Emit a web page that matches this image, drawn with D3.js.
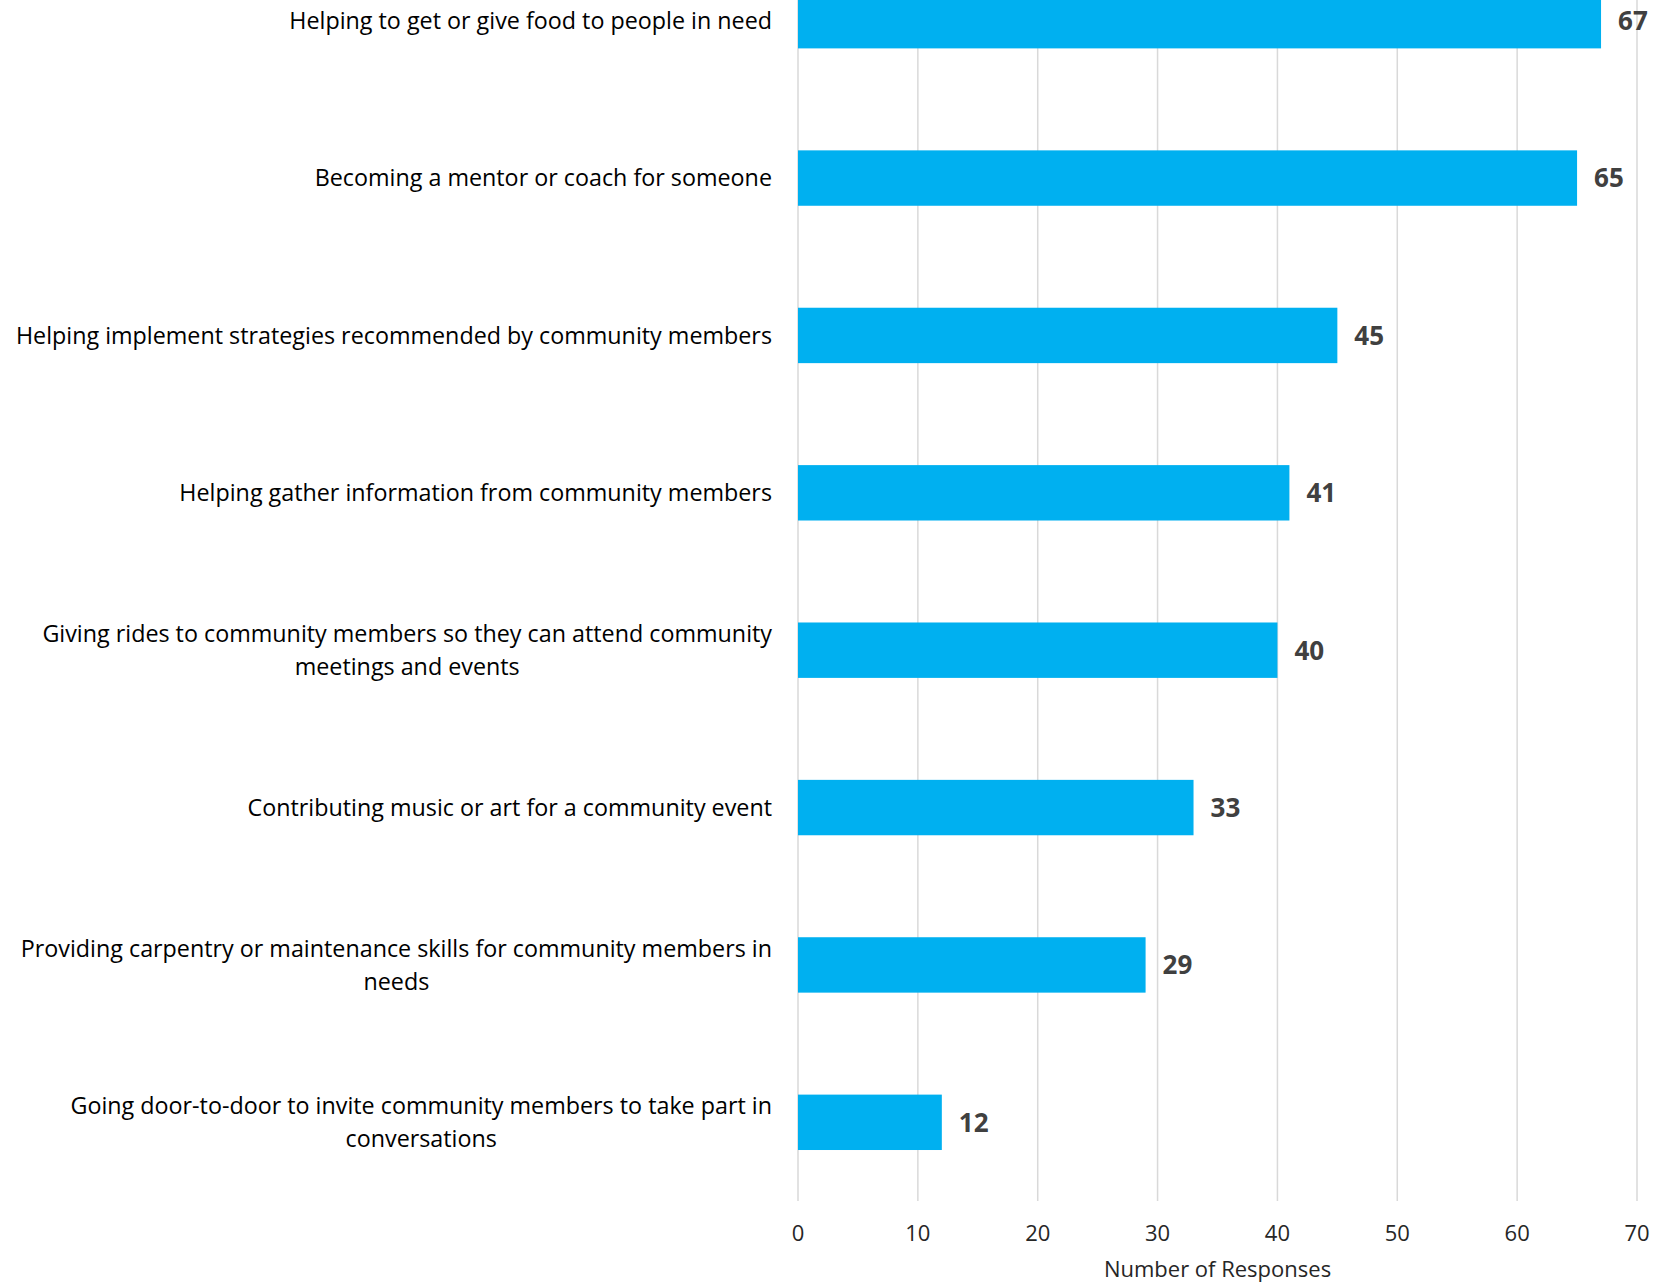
<!DOCTYPE html>
<html>
<head>
<meta charset="utf-8">
<script src="https://cdn.jsdelivr.net/npm/d3@7"></script>
<style>
  body { margin: 0; background: #fff; }
  svg { display: block; }
  text { font-family: "Open Sans", "Liberation Sans", sans-serif; }
</style>
</head>
<body>
<div id="chart"></div>
<script>
// Chart data
const categories = [
    "Helping to get or give food to people in need",
    "Becoming a mentor or coach for someone",
    "Helping implement strategies recommended by community members",
    "Helping gather information from community members",
    "Giving rides to community members so they can attend community meetings and events",
    "Contributing music or art for a community event",
    "Providing carpentry or maintenance skills for community members in needs",
    "Going door-to-door to invite community members to take part in conversations"
];
const responses = [67, 65, 45, 41, 40, 33, 29, 12];
const xTicks = [0, 10, 20, 30, 40, 50, 60, 70];
const axisTitle = "Number of Responses";

const width = 1669;
const height = 1284;
// plot area (top runs past the picture edge, like the original crop)
const plot = { left: 798, right: 1637, top: -58, bottom: 1201 };

const svg = d3.select("#chart")
    .append("svg")
    .attr("width", width)
    .attr("height", height);

const x = d3.scaleLinear()
    .domain([0, 70])
    .range([plot.left, plot.right]);

const y = d3.scaleBand()
    .domain(categories)
    .range([plot.top, plot.bottom])
    .paddingInner(0.648)
    .paddingOuter(0.324);

// vertical grid lines
svg.append("g")
    .selectAll("line")
    .data(xTicks)
    .enter()
    .append("line")
    .attr("x1", d => x(d))
    .attr("x2", d => x(d))
    .attr("y1", plot.top)
    .attr("y2", plot.bottom)
    .attr("stroke", "#d9d9d9")
    .attr("stroke-width", 1.5);

// bars
svg.selectAll("rect.bar")
    .data(categories)
    .enter()
    .append("rect")
    .attr("class", "bar")
    .attr("x", x(0))
    .attr("y", d => y(d))
    .attr("width", (d, i) => x(responses[i]) - x(0))
    .attr("height", y.bandwidth())
    .attr("fill", "#00b0f0");

// value labels
svg.selectAll("text.value")
    .data(categories)
    .enter()
    .append("text")
    .attr("class", "value")
    .attr("x", (d, i) => x(responses[i]) + 17)
    .attr("y", d => y(d) + y.bandwidth() / 2)
    .attr("dy", "0.36em")
    .style("font-size", "26px")
    .style("font-weight", "bold")
    .style("fill", "#404040")
    .text((d, i) => responses[i]);

// category labels, wrapped and centred like Excel
const labelRight = plot.left - 26;
const wrapWidth = 775;
const lineHeight = 33;

const labels = svg.append("g")
    .selectAll("text")
    .data(categories)
    .enter()
    .append("text")
    .style("font-size", "23.3px")
    .style("fill", "#000");

labels.each(function(d) {
    const t = d3.select(this);
    const words = d.split(" ");
    const lines = [];
    let line = [];
    const probe = t.append("tspan");
    words.forEach(w => {
        const test = line.concat(w).join(" ");
        probe.text(test);
        if (probe.node().getComputedTextLength() > wrapWidth && line.length) {
            lines.push(line.join(" "));
            line = [w];
        } else {
            line.push(w);
        }
    });
    lines.push(line.join(" "));
    // widest line sets the block
    let maxW = 0;
    lines.forEach(l => {
        probe.text(l);
        maxW = Math.max(maxW, probe.node().getComputedTextLength());
    });
    probe.remove();
    const cx = labelRight - maxW / 2;
    const cy = y(d) + y.bandwidth() / 2;
    lines.forEach((l, i) => {
        t.append("tspan")
            .attr("x", cx)
            .attr("y", cy + (i - (lines.length - 1) / 2) * lineHeight)
            .attr("dy", "0.35em")
            .attr("text-anchor", "middle")
            .text(l);
    });
});

// x tick labels
svg.append("g")
    .selectAll("text")
    .data(xTicks)
    .enter()
    .append("text")
    .attr("x", d => x(d))
    .attr("y", 1233)
    .attr("dy", "0.35em")
    .attr("text-anchor", "middle")
    .style("font-size", "22px")
    .style("fill", "#262626")
    .text(d => d);

// axis title
svg.append("text")
    .attr("x", (plot.left + plot.right) / 2)
    .attr("y", 1269)
    .attr("dy", "0.35em")
    .attr("text-anchor", "middle")
    .style("font-size", "22px")
    .style("fill", "#262626")
    .text(axisTitle);
</script>
</body>
</html>
